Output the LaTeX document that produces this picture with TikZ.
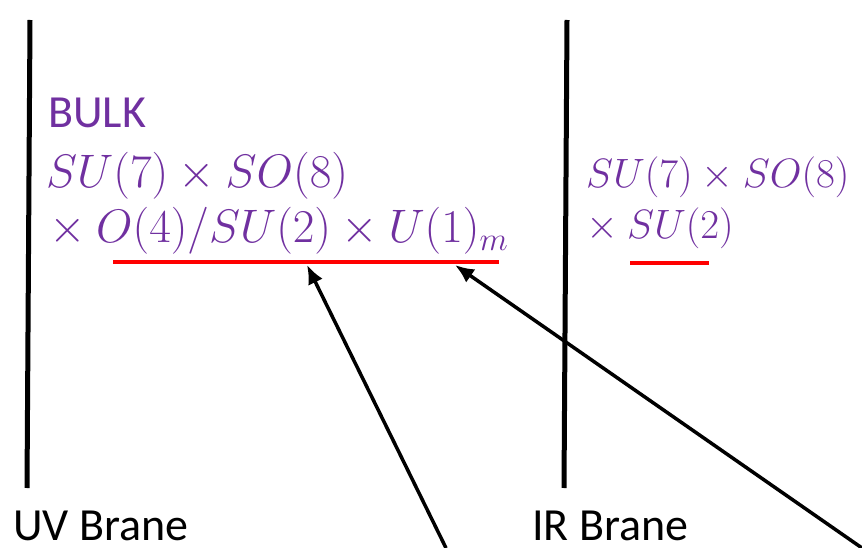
\documentclass[tikz,border=0pt]{standalone}
\usepackage{fix-cm}
\usepackage{fontspec}
\setmainfont{Carlito}
\usepackage{tikz}
\usetikzlibrary{arrows.meta,positioning}
\definecolor{bulkpurple}{RGB}{112,48,160}
\definecolor{markred}{RGB}{255,0,0}

\begin{document}
\begin{tikzpicture}[x=1pt, y=-1pt,
   brane/.style      = {line width=5pt, draw=black},
   branelabel/.style = {anchor=base west, inner sep=0pt,
                        font=\fontsize{46}{54}\selectfont},
   grouplabel/.style = {anchor=base west, inner sep=0pt, text=bulkpurple,
                        font=\fontsize{47}{55}\selectfont},
   bulktitle/.style  = {grouplabel, font=\fontsize{46}{54}\selectfont},
   irgroup/.style    = {grouplabel, font=\fontsize{41}{49}\selectfont},
   markline/.style   = {line width=4pt, draw=markred},
   pointArrow/.style = {-{Latex[length=19pt,width=16pt]}, line width=3.5pt}
]
\useasboundingbox (0,0) rectangle (862,548);
% the two branes
\draw[brane] (30,20) -- (27,488);
\draw[brane] (567,20) -- (564,488);
\node[branelabel] (uv) at (13,540) {UV Brane};
\node[branelabel] (ir) at (532,540) {IR Brane};
% bulk symmetry
\node[bulktitle]  (bulk)  at (48,128) {BULK};
\node[grouplabel] (bulkA) at (46,188) {$SU(7)\times SO(8)$};
\node[grouplabel] (bulkB) at (49,243) {$\times\:O(4)/SU(2)\times U(1)_m$};
% IR symmetry
\node[irgroup] (irA) at (586,188) {$SU(7)\times SO(8)$};
\node[irgroup] (irB) at (586,238) {$\times\:SU(2)$};
% underlines
\draw[markline] (113,262) -- (499,262);
\draw[markline] (630,263) -- (709,263);
\coordinate (tipA)  at (307,265);
\coordinate (tipB)  at (455,265);
\coordinate (footA) at (446,548);
\coordinate (footB) at (862,548);
\draw[pointArrow] (footA) -- (tipA);
\draw[pointArrow] (footB) -- (tipB);
\end{tikzpicture}
\end{document}
